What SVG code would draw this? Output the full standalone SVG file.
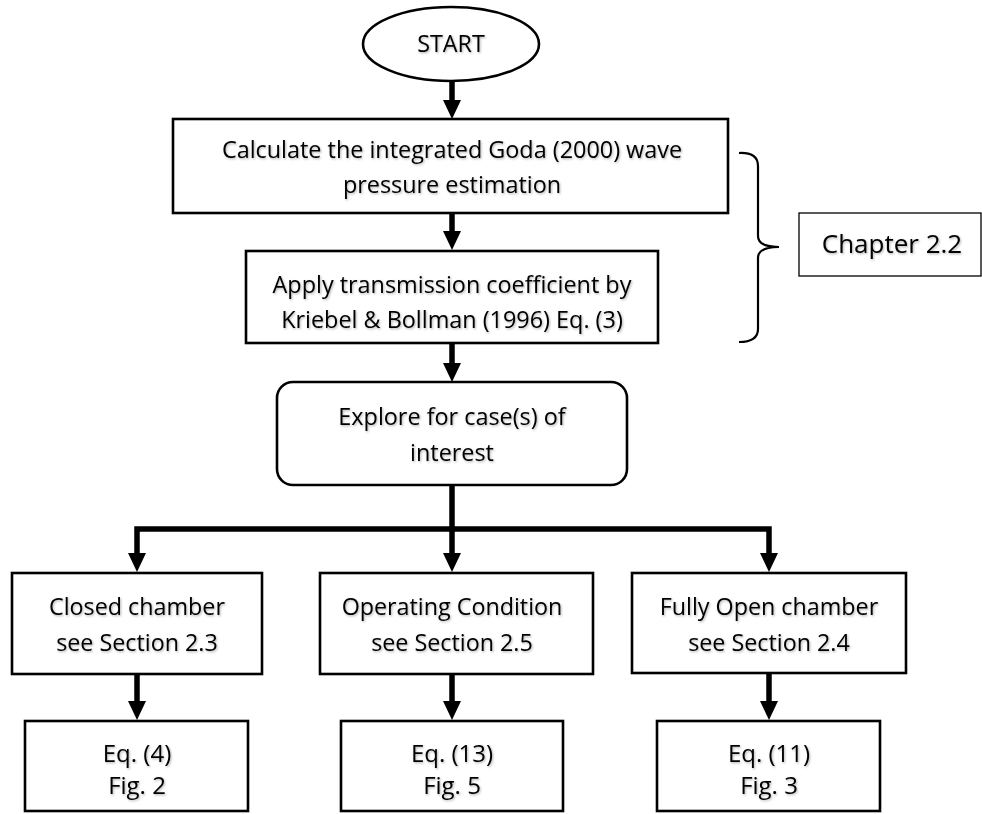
<svg xmlns="http://www.w3.org/2000/svg" width="982" height="814" viewBox="0 0 982 814">
<defs>
<style>
.box{fill:#fff;stroke:#000;stroke-width:2.6}
.thin{fill:#fff;stroke:#000;stroke-width:1.3}
.t{font-family:"Open Sans","Noto Sans",sans-serif;fill:#000;text-anchor:middle;filter:url(#sh)}
.s20{font-size:23.4px}
.s22{font-size:23.3px}
.s24{font-size:24px}
.s26{font-size:26px}
.c{fill:none;stroke:#000;stroke-width:5.5;stroke-linejoin:miter}
</style>
<filter id="sh" x="-5%" y="-20%" width="110%" height="140%">
<feDropShadow dx="1" dy="1.2" stdDeviation="0.8" flood-color="#000" flood-opacity="0.3"/>
</filter>
<marker id="ah" markerUnits="userSpaceOnUse" markerWidth="19" markerHeight="18" refX="1" refY="9" orient="auto" viewBox="0 0 19 18">
<path d="M0,0 L19,9 L0,18 z" fill="#000"/>
</marker>
</defs>
<g id="connectors">
<line class="c" x1="452" y1="81" x2="452" y2="101" marker-end="url(#ah)"/>
<line class="c" x1="452" y1="213" x2="452" y2="232" marker-end="url(#ah)"/>
<line class="c" x1="452" y1="343" x2="452" y2="364" marker-end="url(#ah)"/>
<line class="c" x1="452" y1="485" x2="452" y2="554" marker-end="url(#ah)"/>
<path class="c" d="M452,529 H137 V554" marker-end="url(#ah)"/>
<path class="c" d="M452,529 H769 V554" marker-end="url(#ah)"/>
<line class="c" x1="137" y1="674" x2="137" y2="702" marker-end="url(#ah)"/>
<line class="c" x1="452" y1="674" x2="452" y2="702" marker-end="url(#ah)"/>
<line class="c" x1="769" y1="673" x2="769" y2="702" marker-end="url(#ah)"/>
<path d="M739,153 Q758,152 758,166 V236 Q758,247 779,247 Q758,247 758,258 V329 Q758,342 739,342" fill="none" stroke="#000" stroke-width="2.2"/>
</g>
<g id="start">
<ellipse cx="451" cy="44" rx="88" ry="37" class="box"/>
<text class="t s22" x="451" y="52">START</text>
</g>
<g id="goda">
<rect x="173" y="119" width="555" height="94" class="box"/>
<text class="t s20" x="452" y="158">Calculate the integrated Goda (2000) wave</text>
<text class="t s20" x="452" y="193">pressure estimation</text>
</g>
<g id="transmission">
<rect x="246" y="251" width="412" height="92" class="box"/>
<text class="t s20" x="452" y="293">Apply transmission coefficient by</text>
<text class="t s20" x="452" y="328">Kriebel &amp; Bollman (1996) Eq. (3)</text>
</g>
<g id="chapter">
<rect x="799" y="213" width="182" height="63" class="thin"/>
<text class="t s26" x="892" y="253">Chapter 2.2</text>
</g>
<g id="explore">
<rect x="277" y="382" width="350" height="103" rx="16" class="box"/>
<text class="t s20" x="452" y="425">Explore for case(s) of</text>
<text class="t s20" x="452" y="461">interest</text>
</g>
<g id="closed">
<rect x="12" y="573" width="250" height="101" class="box"/>
<text class="t s22" x="137" y="615">Closed chamber</text>
<text class="t s22" x="137" y="651">see Section 2.3</text>
</g>
<g id="operating">
<rect x="320" y="573" width="273" height="101" class="box"/>
<text class="t s22" x="452" y="615">Operating Condition</text>
<text class="t s22" x="452" y="651">see Section 2.5</text>
</g>
<g id="open">
<rect x="632" y="573" width="274" height="100" class="box"/>
<text class="t s22" x="769" y="615">Fully Open chamber</text>
<text class="t s22" x="769" y="651">see Section 2.4</text>
</g>
<g id="eq4">
<rect x="25" y="721" width="223" height="90" class="box"/>
<text class="t s24" x="137" y="762">Eq. (4)</text>
<text class="t s24" x="137" y="794">Fig. 2</text>
</g>
<g id="eq13">
<rect x="341" y="721" width="222" height="90" class="box"/>
<text class="t s24" x="452" y="762">Eq. (13)</text>
<text class="t s24" x="452" y="794">Fig. 5</text>
</g>
<g id="eq11">
<rect x="657" y="721" width="223" height="90" class="box"/>
<text class="t s24" x="769" y="762">Eq. (11)</text>
<text class="t s24" x="769" y="794">Fig. 3</text>
</g>
</svg>
